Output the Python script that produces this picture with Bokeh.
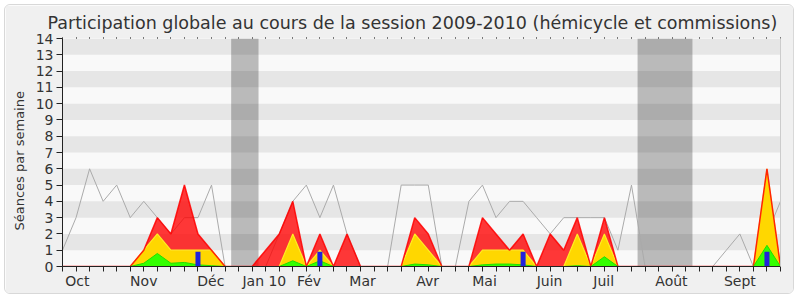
from bokeh.plotting import figure
from bokeh.models import Range1d, FixedTicker, LinearAxis, BoxAnnotation
from bokeh.embed import file_html
from bokeh.resources import INLINE

# semaines de la session (index de semaine)
semaines = list(range(54))
# ligne grise : médiane des députés
mediane = [1, 3, 6, 4, 5, 3, 4, 3, 2, 3, 3, 5, 0, 0, 0, 0, 2, 4, 5, 3,
           5, 2, 0, 0, 0, 5, 5, 5, 0, 0, 4, 5, 3, 4, 4, 3, 2, 3, 3, 3,
           3, 1, 5, 0, 0, 0, 0, 0, 0, 1, 2, 0, 2, 4]
# rouge : présences (total)
presences = [0, 0, 0, 0, 0, 0, 1, 3, 2, 5, 2, 1, 0, 0, 0, 1, 2, 4, 0, 2,
             0, 2, 0, 0, 0, 0, 3, 2, 0, 0, 0, 3, 2, 1, 2, 0, 2, 1, 3, 0,
             3, 0, 0, 0, 0, 0, 0, 0, 0, 0, 0, 0, 6, 0]
# jaune : hémicycle
hemicycle = [0, 0, 0, 0, 0, 0, 1, 2, 1, 1, 1, 1, 0, 0, 0, 0, 0, 2, 0, 1,
             0, 0, 0, 0, 0, 0, 2, 1, 0, 0, 0, 1, 1, 1, 1, 0, 0, 0, 2, 0,
             2, 0, 0, 0, 0, 0, 0, 0, 0, 0, 0, 0, 6, 0]
# vert : interventions
interventions = [0, 0, 0, 0, 0, 0, 0.2, 0.8, 0.2, 0.25, 0.1, 0.05, 0, 0, 0, 0, 0, 0.35, 0, 0.35,
                 0, 0, 0, 0, 0, 0, 0.15, 0.1, 0, 0, 0, 0.1, 0.15, 0.15, 0.1, 0, 0, 0, 0.05, 0,
                 0.6, 0, 0, 0, 0, 0, 0, 0, 0, 0, 0, 0, 1.3, 0]
# bleu : questions orales
questions = [0, 0, 0, 0, 0, 0, 0, 0, 0, 0, 0.9, 0, 0, 0, 0, 0, 0, 0, 0, 0.9,
             0, 0, 0, 0, 0, 0, 0, 0, 0, 0, 0, 0, 0, 0, 0.9, 0, 0, 0, 0, 0,
             0, 0, 0, 0, 0, 0, 0, 0, 0, 0, 0, 0, 0.9, 0]
mois = ["Oct", "Nov", "Déc", "Jan 10", "Fév", "Mar", "Avr", "Mai", "Juin", "Juil", "Août", "Sept"]
mois_pos = [1.1, 6.0, 10.95, 14.9, 18.2, 22.15, 26.95, 31.15, 35.95, 39.95, 44.95, 50.0]
vacances = [(12.45, 14.47), (42.45, 46.5)]
y_ticks = list(range(15))

FONT = "DejaVu Sans"
TXT = "#333333"

p = figure(width=790, height=290, output_backend="svg", toolbar_location=None,
           x_range=Range1d(0, 53), y_range=Range1d(0, 14),
           min_border_left=57, min_border_right=15, min_border_top=31, min_border_bottom=29,
           background_fill_color="#f9f9f9", border_fill_color="#f0f0f0",
           outline_line_color=None)
p.styles = {"margin": "4px 0 0 4px", "border": "1px solid #d8d8d8",
            "border-radius": "6px", "overflow": "hidden"}

p.title.text = "Participation globale au cours de la session 2009-2010 (hémicycle et commissions)"
p.title.text_font = FONT
p.title.text_font_size = "17.5px"
p.title.text_font_style = "normal"
p.title.text_color = TXT
p.title.align = "left"
p.title.offset = -15

p.xgrid.visible = False
p.ygrid.visible = False

# bandes horizontales
for b in range(1, 14, 2):
    p.add_layout(BoxAnnotation(bottom=b, top=b + 1, fill_color="#e6e6e6", fill_alpha=1,
                               line_color=None, level="underlay"))
# vacances
for (l, r) in vacances:
    p.add_layout(BoxAnnotation(left=l, right=r, fill_color="#000000", fill_alpha=0.25,
                               line_color=None, level="underlay"))

p.line(semaines, mediane, line_color="#aaaaaa", line_width=1)

p.varea(x=semaines, y1=[0] * len(semaines), y2=presences, fill_color="#ff0000", fill_alpha=0.78)
p.varea(x=semaines, y1=[0] * len(semaines), y2=hemicycle, fill_color="#ffd700", fill_alpha=1)
p.line(semaines, hemicycle, line_color="#ffee22", line_width=1.2)
p.line(semaines, presences, line_color="#ff0000", line_width=1.5, line_alpha=0.85)
p.varea(x=semaines, y1=[0] * len(semaines), y2=interventions, fill_color="#33ff00", fill_alpha=1)
p.line(semaines, interventions, line_color="#22dd00", line_width=1)
p.vbar(x=semaines, top=questions, width=0.37, fill_color="#2222dd", line_color=None)

# axe x
xa = p.xaxis[0]
xa.ticker = FixedTicker(ticks=mois_pos, minor_ticks=semaines)
xa.major_label_overrides = {pos: lab for pos, lab in zip(mois_pos, mois)}
xa.major_tick_out = 0
xa.major_tick_in = 0
xa.minor_tick_out = 5
xa.minor_tick_in = 0
xa.minor_tick_line_color = "#222222"
xa.axis_line_color = "#222222"
xa.major_label_text_font = FONT
xa.major_label_text_font_size = "14px"
xa.major_label_text_color = TXT
xa.major_label_standoff = 1

# axe y
ya = p.yaxis[0]
ya.ticker = FixedTicker(ticks=y_ticks, minor_ticks=[])
ya.major_tick_out = 6
ya.major_tick_in = 0
ya.major_tick_line_color = "#222222"
ya.axis_line_color = "#222222"
ya.major_label_text_font = FONT
ya.major_label_text_font_size = "14px"
ya.major_label_text_color = TXT
ya.major_label_standoff = 3
ya.axis_label = "Séances par semaine" + "\u00a0" * 4
ya.axis_label_text_font = FONT
ya.axis_label_text_font_size = "13px"
ya.axis_label_text_font_style = "normal"
ya.axis_label_text_color = TXT
ya.axis_label_standoff = 6

# petits points en haut (graduations hebdomadaires sans libellés)
top = LinearAxis(ticker=FixedTicker(ticks=[], minor_ticks=semaines), major_tick_in=0,
                 major_tick_out=0, minor_tick_in=0, minor_tick_out=1,
                 axis_line_color=None, minor_tick_line_color="#000000")
p.add_layout(top, "above")

# fine bordure à droite du cadre
right = LinearAxis(ticker=FixedTicker(ticks=[], minor_ticks=[]), major_tick_out=0,
                   major_tick_in=0, axis_line_color="#cccccc")
p.add_layout(right, "right")

open("out.html", "w").write(file_html(p, INLINE))
